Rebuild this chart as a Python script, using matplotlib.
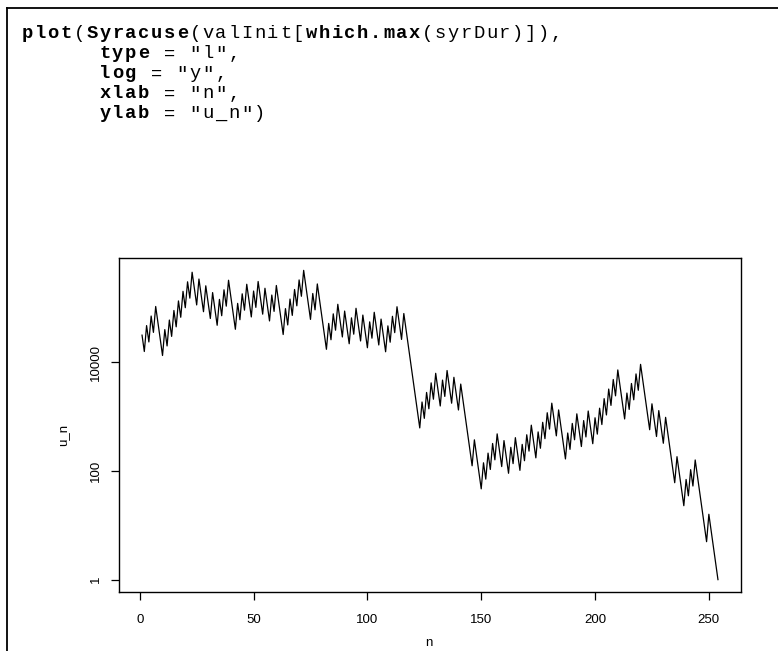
import math
import matplotlib
matplotlib.use("Agg")
import matplotlib.pyplot as plt
from matplotlib.lines import Line2D
from matplotlib.ticker import FixedLocator, FixedFormatter, NullLocator

# Syracuse sequence values u_n (n = 1..254)
u_n = [
    31854, 15927, 47782, 23891, 71674, 35837, 107512, 53756, 26878, 13439,
    40318, 20159, 60478, 30239, 90718, 45359, 136078, 68039, 204118, 102059,
    306178, 153089, 459268, 229634, 114817, 344452, 172226, 86113, 258340, 129170,
    64585, 193756, 96878, 48439, 145318, 72659, 217978, 108989, 326968, 163484,
    81742, 40871, 122614, 61307, 183922, 91961, 275884, 137942, 68971, 206914,
    103457, 310372, 155186, 77593, 232780, 116390, 58195, 174586, 87293, 261880,
    130940, 65470, 32735, 98206, 49103, 147310, 73655, 220966, 110483, 331450,
    165725, 497176, 248588, 124294, 62147, 186442, 93221, 279664, 139832, 69916,
    34958, 17479, 52438, 26219, 78658, 39329, 117988, 58994, 29497, 88492,
    44246, 22123, 66370, 33185, 99556, 49778, 24889, 74668, 37334, 18667,
    56002, 28001, 84004, 42002, 21001, 63004, 31502, 15751, 47254, 23627,
    70882, 35441, 106324, 53162, 26581, 79744, 39872, 19936, 9968, 4984,
    2492, 1246, 623, 1870, 935, 2806, 1403, 4210, 2105, 6316,
    3158, 1579, 4738, 2369, 7108, 3554, 1777, 5332, 2666, 1333,
    4000, 2000, 1000, 500, 250, 125, 376, 188, 94, 47,
    142, 71, 214, 107, 322, 161, 484, 242, 121, 364,
    182, 91, 274, 137, 412, 206, 103, 310, 155, 466,
    233, 700, 350, 175, 526, 263, 790, 395, 1186, 593,
    1780, 890, 445, 1336, 668, 334, 167, 502, 251, 754,
    377, 1132, 566, 283, 850, 425, 1276, 638, 319, 958,
    479, 1438, 719, 2158, 1079, 3238, 1619, 4858, 2429, 7288,
    3644, 1822, 911, 2734, 1367, 4102, 2051, 6154, 3077, 9232,
    4616, 2308, 1154, 577, 1732, 866, 433, 1300, 650, 325,
    976, 488, 244, 122, 61, 184, 92, 46, 23, 70,
    35, 106, 53, 160, 80, 40, 20, 10, 5, 16,
    8, 4, 2, 1,
]
n_idx = list(range(1, len(u_n) + 1))

x_ticks = [0, 50, 100, 150, 200, 250]
x_tick_labels = ["0", "50", "100", "150", "200", "250"]
y_ticks = [1, 100, 10000]
y_tick_labels = ["1", "100", "10000"]

code_lines = [
    [("plot", True), ("(", False), ("Syracuse", True), ("(valInit[", False),
     ("which.max", True), ("(syrDur)]),", False)],
    [("      ", False), ("type", True), (' = "l",', False)],
    [("      ", False), ("log", True), (' = "y",', False)],
    [("      ", False), ("xlab", True), (' = "n",', False)],
    [("      ", False), ("ylab", True), (' = "u_n")', False)],
]

W, H, DPI = 778, 651, 100
fig = plt.figure(figsize=(W / DPI, H / DPI), dpi=DPI)

# outer frame (left and top edges)
fig.add_artist(Line2D([7 / W, 7 / W], [0, 1 - 8 / H], transform=fig.transFigure,
                      color="black", lw=1.3))
fig.add_artist(Line2D([7 / W, 1], [1 - 8 / H, 1 - 8 / H], transform=fig.transFigure,
                      color="black", lw=1.3))

# code text, laid out on a fixed character grid (Courier-like spacing)
fs = 13.5
cell = 12.9
x0 = 21
base0 = 38.5
dy = 20
for li, segs in enumerate(code_lines):
    col = 0
    for txt, bold in segs:
        for ch in txt:
            if ch != " ":
                fig.text((x0 + (col + 0.5) * cell) / W, 1 - (base0 + li * dy) / H, ch,
                         family="Liberation Mono", fontsize=fs,
                         fontweight="bold" if bold else "normal",
                         ha="center", va="baseline", color="black")
            col += 1

# plot region
L, R, T, B = 119, 741, 258, 592
ax = fig.add_axes([L / W, 1 - B / H, (R - L) / W, (B - T) / H])
ax.plot(n_idx, u_n, color="black", lw=0.9)
ax.set_yscale("log")
xr = (n_idx[-1] - n_idx[0]) * 0.04
ax.set_xlim(n_idx[0] - xr, n_idx[-1] + xr)
ly0, ly1 = math.log10(min(u_n)), math.log10(max(u_n))
yr = (ly1 - ly0) * 0.04
ax.set_ylim(10 ** (ly0 - yr), 10 ** (ly1 + yr))

ax.xaxis.set_major_locator(FixedLocator(x_ticks))
ax.xaxis.set_major_formatter(FixedFormatter(x_tick_labels))
ax.yaxis.set_major_locator(FixedLocator(y_ticks))
ax.yaxis.set_major_formatter(FixedFormatter(y_tick_labels))
ax.xaxis.set_minor_locator(NullLocator())
ax.yaxis.set_minor_locator(NullLocator())
ax.tick_params(direction="out", length=6, width=0.9, color="black")
ax.tick_params(axis="x", pad=10, labelsize=9.5)
ax.tick_params(axis="y", pad=6, labelsize=9.5)
for lab in ax.get_yticklabels():
    lab.set_rotation(90)
    lab.set_va("center")
for lab in ax.get_xticklabels() + ax.get_yticklabels():
    lab.set_family("Liberation Sans")
for sp in ax.spines.values():
    sp.set_linewidth(1.0)
    sp.set_color("black")

fig.text(63 / W, 1 - 435 / H, "u_n", rotation=90, family="Liberation Sans",
         fontsize=9.5, ha="center", va="center")
fig.text(429 / W, 1 - 643 / H, "n", family="Liberation Sans",
         fontsize=9.5, ha="center", va="center")

fig.savefig("out.png", dpi=DPI, facecolor="white")
